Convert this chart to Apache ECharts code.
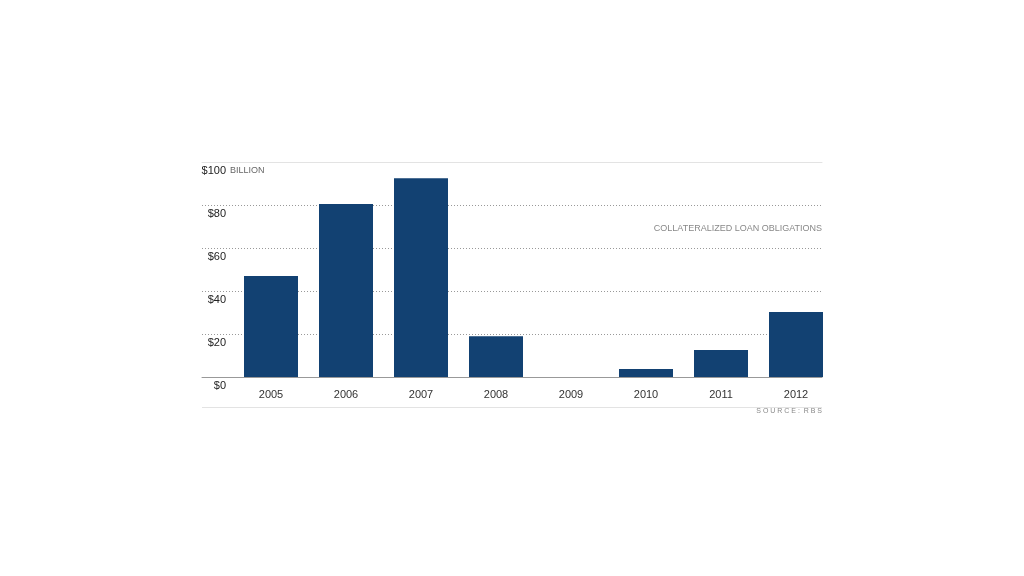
<!DOCTYPE html>
<html><head><meta charset="utf-8">
<script src="https://cdn.jsdelivr.net/npm/echarts@6/dist/echarts.min.js"></script>
<style>html,body{margin:0;padding:0;background:#fff}#c{width:1024px;height:576px}</style>
</head><body><div id="c"></div>
<script>
const years = ['2005','2006','2007','2008','2009','2010','2011','2012'];
const cloValues = [47, 80.5, 92.5, 19, 0, 3.7, 12.6, 30.2];
const yTicks = [0, 20, 40, 60, 80, 100];
const unitLabel = 'BILLION';
const seriesLabel = 'COLLATERALIZED LOAN OBLIGATIONS';
const sourceLabel = 'S O U R C E :  R B S';

const FONT = '"Liberation Sans", Arial, sans-serif';
const chart = echarts.init(document.getElementById('c'), null, {renderer: 'canvas'});
chart.setOption({
  animation: false,
  textStyle: {fontFamily: FONT},
  grid: [
    {left: 202, right: 202, top: 162, bottom: 199},
    {left: 233.5, right: 190.5, top: 162, bottom: 199}
  ],
  xAxis: [
    {gridIndex: 0, type: 'value', min: 0, max: 1, position: 'bottom',
     axisLine: {show: true, lineStyle: {color: '#999', width: 1}}, axisTick: {show: false},
     axisLabel: {show: false}, splitLine: {show: false}, z: 5},
    {gridIndex: 0, type: 'value', min: 0, max: 1, position: 'top',
     axisLine: {show: true, lineStyle: {color: '#e3e3e3', width: 1}}, axisTick: {show: false},
     axisLabel: {show: false}, splitLine: {show: false}, z: 5},
    {gridIndex: 1, type: 'category', data: years,
     axisLine: {show: false}, axisTick: {show: false},
     axisLabel: {color: '#333', fontSize: 11, margin: 12, fontFamily: FONT}}
  ],
  yAxis: [
    {gridIndex: 0, type: 'value', min: yTicks[0], max: yTicks[yTicks.length - 1], interval: 20,
     axisLine: {show: false}, axisTick: {show: false},
     axisLabel: {inside: true, margin: 24, align: 'right', verticalAlign: 'top',
       padding: [3, 0, 0, 0], color: '#222', fontSize: 11, fontFamily: FONT,
       formatter: v => '$' + v},
     splitLine: {show: true, lineStyle: {color: ['#999','#999','#999','#999','#999','rgba(0,0,0,0)'], type: [1, 2], width: 1}}},
    {gridIndex: 1, type: 'value', min: yTicks[0], max: yTicks[yTicks.length - 1], interval: 20, show: false,
     splitLine: {show: false}}
  ],
  series: [{
    type: 'bar', xAxisIndex: 2, yAxisIndex: 1, data: cloValues,
    barWidth: 54, itemStyle: {color: '#124172'}, z: 3
  }],
  graphic: [
    {type: 'text', left: 230, top: 166, style: {text: unitLabel, fill: '#666', font: '9px ' + FONT}},
    {type: 'text', right: 202, top: 224, style: {text: seriesLabel, fill: '#888', font: '9px ' + FONT, textAlign: 'right'}},
    {type: 'line', shape: {x1: 202, y1: 407.5, x2: 822, y2: 407.5}, style: {stroke: '#e3e3e3', lineWidth: 1}},
    {type: 'text', right: 202, top: 408, style: {text: sourceLabel, fill: '#888', font: '7px ' + FONT, textAlign: 'right'}}
  ]
});
</script></body></html>
